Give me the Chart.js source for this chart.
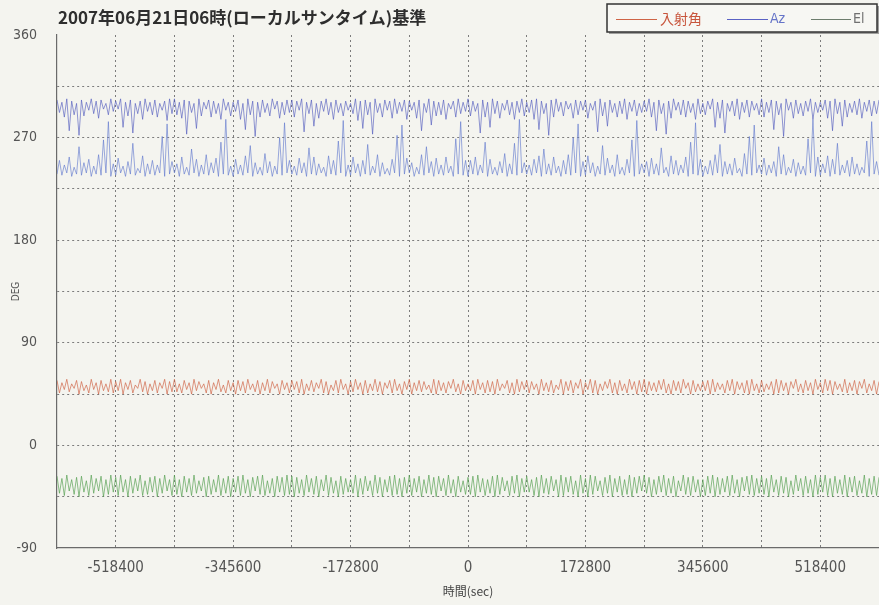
<!DOCTYPE html>
<html>
<head>
<meta charset="utf-8">
<script src="https://cdn.jsdelivr.net/npm/chart.js@4/dist/chart.umd.min.js"></script>
<style>
  html, body { margin: 0; padding: 0; background: #f4f4ef; overflow: hidden; }
  #wrap { width: 890px; height: 605px; }
</style>
</head>
<body>
<div id="wrap"><canvas id="c" width="890" height="605"></canvas></div>
<script>
// Hourly samples, starting 7 days before the reference time (sec)
const T_START = -604800;
const T_STEP = 3600;

const xTickLabels = [-518400, -345600, -172800, 0, 172800, 345600, 518400];
const yTickLabels = [-90, 0, 90, 180, 270, 360];
const seriesNames = ['入射角', 'Az', 'El'];
const titleText = '2007年06月21日06時(ローカルサンタイム)基準';

// 入射角 (deg)
const incidence = [
  57,46,55,49,58,47,54,50,57,45,56,48,53,46,58,49,55,45,57,48,54,47,58,46,
  56,48,58,45,55,49,57,46,53,50,58,47,56,45,54,48,57,46,55,50,58,45,56,47,
  58,47,54,46,57,49,55,45,58,48,56,50,54,46,57,45,55,49,58,47,53,46,57,48,
  55,45,57,48,56,46,58,49,54,47,57,45,55,48,58,46,56,50,54,45,57,49,55,46,
  57,49,56,46,58,45,54,48,57,47,55,50,58,46,56,45,53,48,57,46,58,49,54,45,
  56,47,58,49,55,45,57,46,54,48,58,47,56,45,55,50,57,46,58,48,54,45,56,49,
  58,45,55,48,57,47,56,49,53,46,58,45,57,48,55,46,56,50,58,47,54,45,57,48,
  54,48,57,45,58,49,55,46,57,47,56,45,58,48,54,50,57,46,55,45,58,47,56,49,
  57,46,56,49,54,45,58,48,55,47,57,46,53,49,58,45,56,48,57,46,55,50,58,45,
  55,49,58,46,57,45,54,48,56,50,58,46,55,45,57,48,54,46,58,49,56,45,57,47,
  58,45,56,48,55,47,57,49,58,46,54,45,57,48,56,46,58,50,55,45,57,47,54,48,
  56,48,57,45,58,47,55,49,54,46,57,48,58,45,56,49,55,46,57,45,58,48,54,46,
  57,47,54,49,56,45,58,46,57,48,55,45,56,50,58,47,54,46,57,48,55,45,58,49,
  55,46,58,48,57,45,56,49,54,47,58,46,55,48,57,45,56,50,58,46,54,48,57,45,
  56
];

// Az, upper branch (deg)
const azUpper = [
  303,292,301,288,304,276,302,290,300,272,303,289,301,294,304,291,302,287,303,295,300,290,304,293,
  302,295,304,279,301,289,303,274,300,291,302,286,304,293,301,290,303,288,300,294,302,285,304,291,
  304,290,301,287,303,273,302,292,300,278,304,289,301,295,303,288,302,291,300,286,304,294,301,289,
  301,293,303,286,300,277,304,290,302,271,301,288,303,292,300,289,304,295,302,287,301,290,303,292,
  303,288,302,294,304,275,301,291,303,280,300,287,302,293,304,290,301,286,303,292,300,289,302,294,
  300,291,304,285,302,278,303,290,301,273,304,292,300,288,303,294,302,287,304,291,301,293,303,286,
  302,294,301,287,303,276,300,292,304,281,302,289,301,290,303,286,300,295,302,288,304,291,301,293,
  304,289,302,293,300,274,303,288,301,279,304,291,302,287,300,294,303,290,301,286,302,292,304,289,
  301,292,303,286,304,277,302,291,300,272,303,288,304,293,301,289,302,295,300,287,303,290,302,294,
  303,287,300,294,302,275,304,289,301,280,303,292,300,288,302,291,304,286,301,293,303,289,300,292,
  302,293,304,288,301,276,303,291,300,273,302,287,304,294,301,290,303,288,302,292,300,286,304,291,
  300,290,302,295,304,279,301,287,303,274,300,293,302,289,304,286,301,292,303,288,302,294,300,290,
  304,288,301,292,303,277,302,290,300,271,304,294,301,287,303,291,300,289,302,293,304,286,301,292,
  301,294,303,287,302,276,304,291,301,280,303,288,300,292,302,290,304,287,301,293,303,289,302,291,
  303
];

// Az, lower branch (deg)
const azLower = [
  238,250,237,246,239,253,236,244,238,262,237,248,239,251,236,245,238,255,237,268,239,284,236,247,
  237,252,239,245,236,249,238,265,237,243,239,254,236,247,238,250,237,246,239,271,236,282,238,249,
  239,247,236,253,238,244,237,260,239,251,236,246,238,255,237,248,239,252,236,266,238,286,237,245,
  236,251,238,246,237,254,239,263,236,248,238,244,237,256,239,249,236,245,238,270,237,283,239,250,
  238,245,237,252,239,248,236,261,238,253,237,247,239,244,236,254,238,250,237,267,239,285,236,246,
  237,253,239,247,236,250,238,264,237,245,239,255,236,248,238,243,237,251,239,272,236,281,238,252,
  239,248,236,244,238,255,237,262,239,249,236,252,238,246,237,253,239,245,236,269,238,284,237,250,
  236,250,238,253,237,246,239,266,236,251,238,244,237,249,239,256,236,247,238,265,237,286,239,248,
  238,246,237,251,239,254,236,260,238,247,237,253,239,245,236,250,238,255,237,270,239,282,236,249,
  237,254,239,248,236,245,238,263,237,252,239,246,236,255,238,244,237,251,239,268,236,285,238,247,
  239,249,236,252,238,247,237,261,239,244,236,254,238,250,237,246,239,253,236,266,238,283,237,251,
  236,245,238,250,237,255,239,264,236,249,238,247,237,252,239,243,236,256,238,271,237,281,239,246,
  238,252,237,246,239,249,236,262,238,255,237,244,239,251,236,248,238,245,237,269,239,286,236,253,
  237,247,239,254,236,251,238,265,237,246,239,250,236,253,238,247,237,244,239,267,236,284,238,249,
  237
];

// El (deg)
const elevation = [
  -27,-42,-29,-44,-26,-40,-30,-43,-28,-45,-27,-41,-31,-44,-26,-42,-29,-40,-27,-45,-30,-43,-26,-41,
  -28,-44,-26,-41,-30,-45,-27,-42,-29,-40,-26,-44,-31,-43,-28,-41,-27,-45,-29,-42,-26,-40,-30,-44,
  -26,-43,-30,-45,-27,-41,-29,-44,-26,-42,-31,-40,-28,-45,-27,-43,-30,-41,-26,-44,-29,-42,-27,-45,
  -29,-41,-27,-44,-26,-42,-30,-45,-28,-40,-27,-43,-26,-44,-31,-42,-29,-45,-27,-41,-28,-44,-26,-43,
  -27,-45,-28,-42,-30,-44,-26,-41,-29,-43,-27,-45,-30,-40,-26,-44,-28,-42,-31,-45,-27,-43,-29,-41,
  -30,-42,-26,-45,-29,-43,-27,-40,-31,-44,-26,-42,-28,-45,-30,-41,-27,-44,-26,-43,-29,-45,-28,-42,
  -26,-44,-29,-41,-27,-45,-30,-42,-26,-43,-28,-45,-27,-40,-29,-44,-26,-42,-30,-45,-27,-41,-31,-43,
  -28,-43,-27,-45,-26,-41,-29,-44,-30,-42,-27,-45,-26,-43,-28,-40,-31,-44,-27,-42,-26,-45,-29,-41,
  -27,-41,-30,-44,-28,-45,-26,-42,-29,-43,-27,-40,-30,-45,-26,-44,-28,-41,-27,-43,-31,-45,-26,-42,
  -29,-45,-26,-43,-27,-40,-31,-44,-28,-42,-26,-45,-29,-41,-27,-44,-30,-43,-26,-45,-28,-42,-27,-40,
  -26,-42,-28,-45,-30,-43,-27,-41,-26,-44,-29,-42,-27,-45,-31,-40,-26,-43,-28,-44,-27,-41,-30,-45,
  -30,-44,-27,-42,-26,-45,-28,-43,-29,-41,-27,-44,-26,-42,-30,-45,-28,-40,-27,-43,-26,-44,-29,-42,
  -27,-43,-29,-45,-26,-41,-30,-44,-27,-42,-28,-45,-31,-43,-26,-40,-29,-44,-27,-42,-30,-45,-26,-43,
  -28,-41,-26,-44,-29,-45,-27,-42,-30,-43,-26,-45,-28,-41,-27,-44,-31,-42,-26,-45,-29,-43,-27,-44,
  -28
];

const COLORS = {
  inc: 'rgba(207,100,70,0.75)',
  az: 'rgba(80,90,190,0.7)',
  azLow: 'rgba(95,120,205,0.7)',
  el: 'rgba(85,160,80,0.75)'
};
const NARROW = "'Liberation Sans Narrow', 'DejaVu Sans Condensed', sans-serif";

const toPoints = arr => arr.map((v, i) => ({ x: T_START + i * T_STEP, y: v }));

const lineStyle = color => ({
  borderColor: color, backgroundColor: color, borderWidth: 0.9,
  pointRadius: 0, tension: 0, fill: false
});

// paper background
const paperBg = {
  id: 'paperBg',
  beforeDraw(chart) {
    const { ctx, width, height } = chart;
    ctx.save();
    ctx.fillStyle = '#f4f4ef';
    ctx.fillRect(0, 0, width, height);
    ctx.restore();
  }
};

// heading text and boxed legend
const headerAndKey = {
  id: 'headerAndKey',
  afterDraw(chart) {
    const { ctx, chartArea } = chart;
    ctx.save();
    ctx.fillStyle = '#2e2e2e';
    ctx.font = "bold 17px 'Noto Sans CJK JP', sans-serif";
    ctx.textBaseline = 'middle';
    ctx.textAlign = 'left';
    ctx.fillText(titleText, chartArea.left + 1, 18);

    // legend box with drop shadow
    const bx = 607, by = 4, bw = 270, bh = 28;
    ctx.fillStyle = 'rgba(90,90,90,0.55)';
    ctx.fillRect(bx + 2, by + 2, bw, bh);
    ctx.fillStyle = '#f7f7f3';
    ctx.fillRect(bx, by, bw, bh);
    ctx.strokeStyle = '#333';
    ctx.lineWidth = 1.5;
    ctx.strokeRect(bx, by, bw, bh);

    const entries = [
      { x1: 616, x2: 657, tx: 660, color: '#cf6446', text: '#c8553c', font: "14px 'Noto Sans CJK JP', sans-serif" },
      { x1: 727, x2: 768, tx: 770, color: '#5a62c4', text: '#6574c8', font: '14px ' + NARROW },
      { x1: 811, x2: 851, tx: 853, color: '#6d7d6d', text: '#707070', font: '14px ' + NARROW }
    ];
    entries.forEach((e, i) => {
      ctx.strokeStyle = e.color;
      ctx.lineWidth = 1;
      ctx.beginPath();
      ctx.moveTo(e.x1, 19.5);
      ctx.lineTo(e.x2, 19.5);
      ctx.stroke();
      ctx.font = e.font;
      ctx.fillStyle = e.text;
      ctx.fillText(seriesNames[i], e.tx, 19);
    });
    ctx.restore();
  }
};

const gridColor = '#7c7c7c';

new Chart(document.getElementById('c'), {
  type: 'line',
  data: {
    datasets: [
      { label: seriesNames[0], data: toPoints(incidence), ...lineStyle(COLORS.inc) },
      { label: seriesNames[1], data: toPoints(azUpper), ...lineStyle(COLORS.az) },
      { label: seriesNames[1], data: toPoints(azLower), ...lineStyle(COLORS.azLow) },
      { label: seriesNames[2], data: toPoints(elevation), ...lineStyle(COLORS.el) }
    ]
  },
  options: {
    responsive: false,
    animation: false,
    events: [],
    layout: { padding: { top: 35, right: 6, left: 0, bottom: 0 } },
    plugins: { legend: { display: false }, title: { display: false }, tooltip: { enabled: false } },
    scales: {
      x: {
        type: 'linear',
        min: -604800,
        max: 604800,
        afterFit(scale) { scale.height = 57; },
        ticks: {
          stepSize: 86400,
          autoSkip: false,
          maxRotation: 0,
          padding: 11,
          color: '#555',
          font: { family: NARROW, size: 15 },
          callback: v => xTickLabels.includes(v) ? String(v) : ''
        },
        grid: {
          drawTicks: false,
          lineWidth: 1,
          color: ctx => (ctx.tick && ctx.tick.value === -604800) ? 'rgba(0,0,0,0)' : gridColor
        },
        border: { display: true, color: '#6a6a6a', width: 1.2, dash: [2, 3] },
        title: {
          display: true,
          text: '時間(sec)',
          color: '#444',
          font: { family: "'Noto Sans CJK JP', sans-serif", size: 12 },
          padding: { top: 0, bottom: 6 }
        }
      },
      y: {
        min: -90,
        max: 360,
        afterFit(scale) { scale.width = 57; },
        ticks: {
          stepSize: 45,
          padding: 20,
          color: '#555',
          font: { family: NARROW, size: 14 },
          callback: v => yTickLabels.includes(v) ? String(v) : ''
        },
        grid: {
          drawTicks: false,
          lineWidth: 1,
          color: ctx => (ctx.tick && (ctx.tick.value === 360 || ctx.tick.value === -90)) ? 'rgba(0,0,0,0)' : gridColor
        },
        border: { display: true, color: '#6a6a6a', width: 1.2, dash: [2, 3] },
        title: {
          display: true,
          text: 'DEG',
          color: '#555',
          font: { family: NARROW, size: 10 },
          padding: { top: 10, bottom: 0 }
        }
      }
    }
  },
  plugins: [paperBg, headerAndKey]
});
</script>
</body>
</html>
